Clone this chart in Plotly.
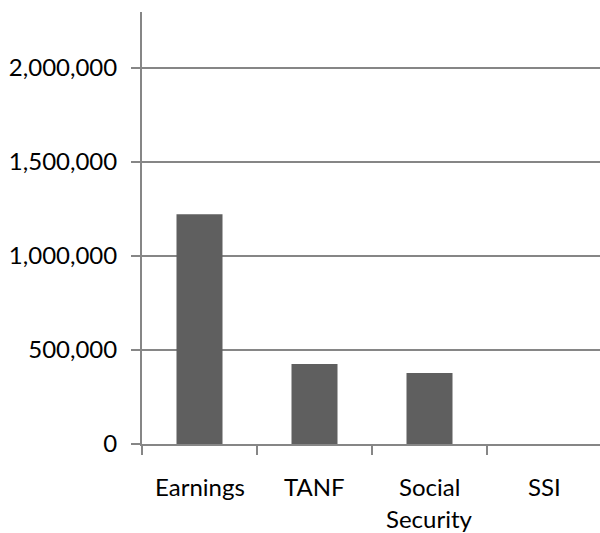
import plotly.graph_objects as go

categories = ["Earnings", "TANF", "Social Security", "SSI"]
category_lines = [["Earnings"], ["TANF"], ["Social", "Security"], ["SSI"]]
values = [1222000, 426000, 378000, 0]
y_tickvals = [0, 500000, 1000000, 1500000, 2000000]
y_ticktext = ["0", "500,000", "1,000,000", "1,500,000", "2,000,000"]

axis_color = "#868686"
bar_color = "#5F5F5F"
font = dict(family="Lato", size=24, color="#000000")

fig = go.Figure(
    go.Bar(
        x=categories,
        y=values,
        width=0.4,
        marker=dict(color=bar_color, line=dict(width=0)),
    )
)

annotations = []
for cat, lines in zip(categories, category_lines):
    for i, line in enumerate(lines):
        annotations.append(dict(
            x=cat, xref="x", y=0, yref="paper",
            text=line, showarrow=False,
            xanchor="center", yanchor="top",
            yshift=-(26 + 32 * i),
            font=font,
        ))

fig.update_layout(
    width=600,
    height=533,
    margin=dict(l=142, r=0, t=12, b=89),
    paper_bgcolor="white",
    plot_bgcolor="white",
    showlegend=False,
    font=font,
    annotations=annotations,
)

fig.update_xaxes(
    type="category",
    range=[-0.5, 3.4826],
    showgrid=False,
    showline=True,
    linecolor=axis_color,
    linewidth=2,
    ticks="outside",
    tickson="boundaries",
    ticklen=9,
    tickwidth=2,
    tickcolor=axis_color,
    showticklabels=False,
    zeroline=False,
)

fig.update_yaxes(
    range=[0, 2297872],
    tickvals=y_tickvals,
    ticktext=y_ticktext,
    showgrid=True,
    gridcolor=axis_color,
    gridwidth=2,
    showline=True,
    linecolor=axis_color,
    linewidth=2,
    ticks="outside",
    ticklen=9,
    tickwidth=1.5,
    tickcolor=axis_color,
    ticklabelstandoff=9,
    tickfont=font,
    zeroline=False,
)

fig.write_html(
    "out.html",
    config={"displayModeBar": False},
    post_script="document.body.style.margin='0';",
)
